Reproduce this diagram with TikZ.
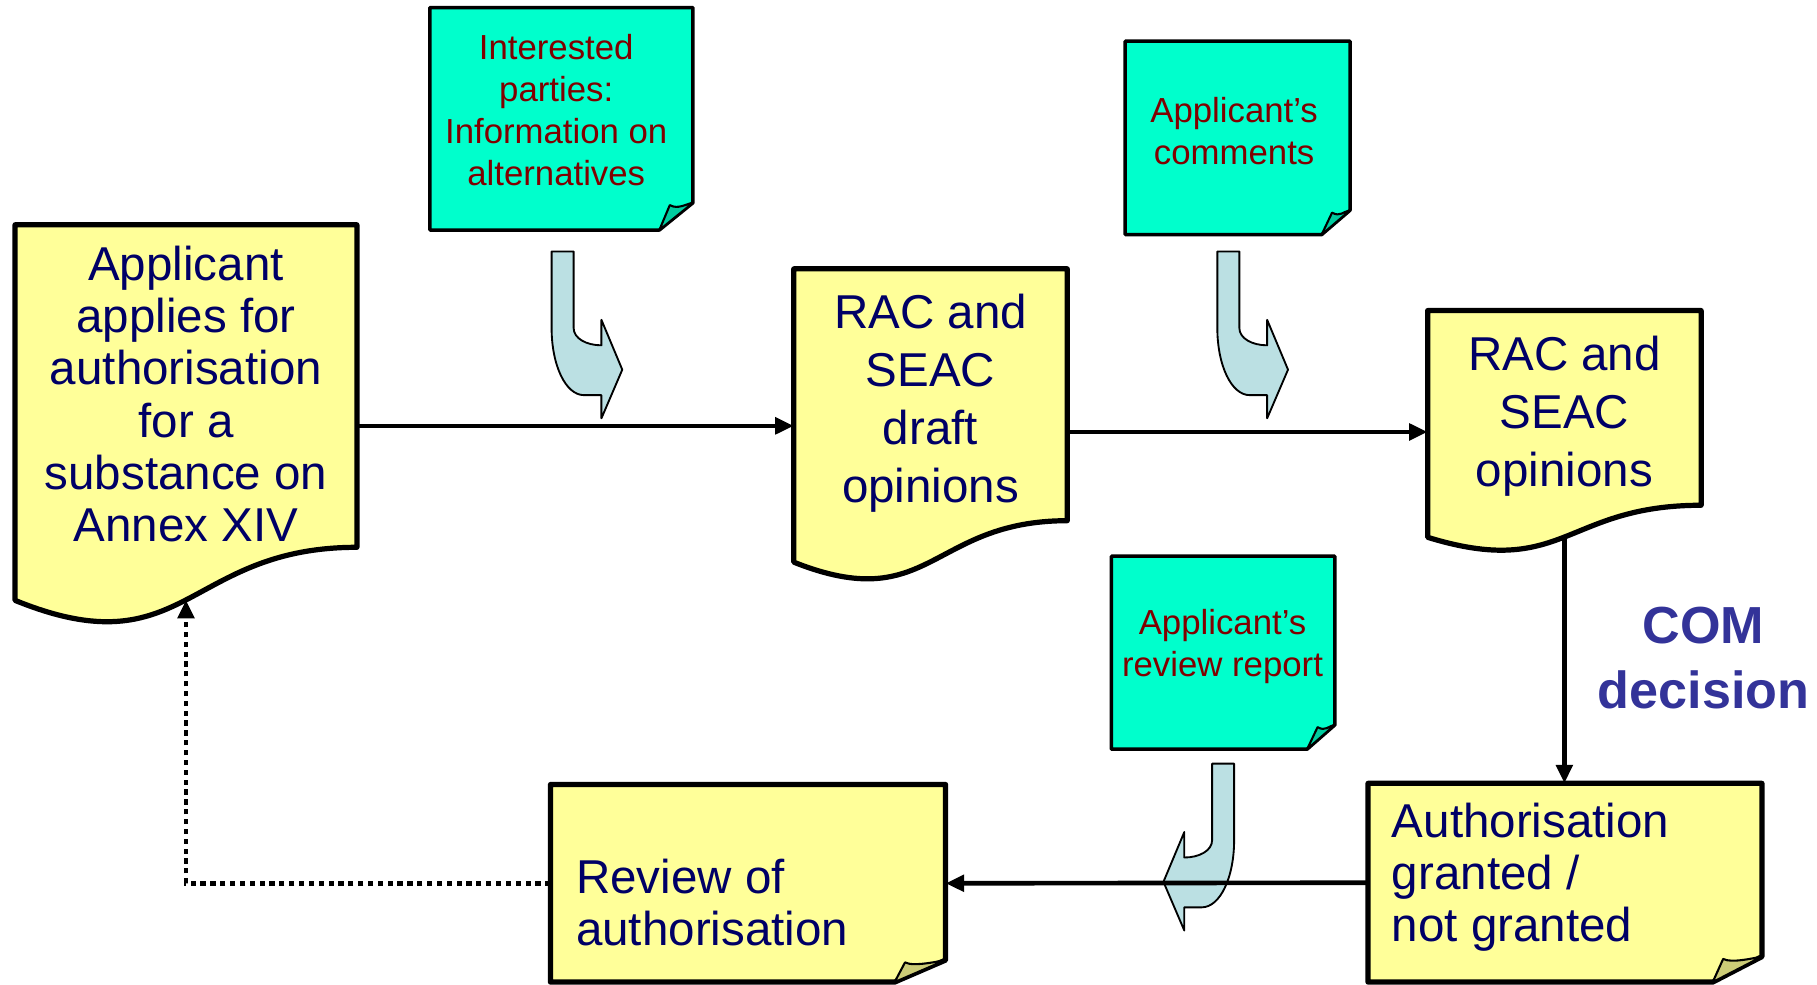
\documentclass[tikz,border=0pt]{standalone}
\usepackage{fontspec}
\setmainfont{Liberation Sans}
\usetikzlibrary{arrows.meta,calc}
\definecolor{boxyellow}{HTML}{FFFF99}
\definecolor{notecyan}{HTML}{00FFCC}
\definecolor{foldyellow}{HTML}{CCCC77}
\definecolor{foldcyan}{HTML}{00CC9F}
\definecolor{navytext}{HTML}{000066}
\definecolor{notetext}{HTML}{800000}
\definecolor{comblue}{HTML}{333399}
\definecolor{bendblue}{HTML}{BBE0E3}
\tikzset{
  frame/.style={rectangle, draw=none, inner sep=0pt, outer sep=0pt},
  docline/.style={draw=black, line width=4.5pt, line join=round, fill=boxyellow},
  bendline/.style={fill=bendblue, draw=black, line width=1.6pt, line join=round},
  boxtxt/.style={font=\fontsize{41}{45}\selectfont, text=navytext, align=center, inner sep=0pt},
  boxtxtwide/.style={boxtxt, font=\fontsize{41}{50}\selectfont},
  boxtxtleft/.style={boxtxt, align=left, anchor=west},
  notetxt/.style={font=\fontsize{30}{36}\selectfont, text=notetext, align=center, inner sep=0pt},
  comtxt/.style={font=\fontsize{45}{56}\selectfont\bfseries, text=comblue, align=center, inner sep=0pt},
  conn/.style={line width=4pt, -{Triangle[length=16pt,width=14pt]}},
  dotconn/.style={conn, dash pattern=on 4.5pt off 4pt}
}
% bent block arrow: x, y of inner top corner, direction (1 right, -1 left)
\newcommand\bendarrow[3]{%
  \begin{scope}[shift={(#1,#2)}, xscale=#3]
  \path[bendline]
    (-19,0) -- (0,0) -- (0,66) .. controls (0,75) and (11,81) .. (24,81)
    -- (24,59) -- (42,102) -- (24,144) -- (24,124) -- (9,124)
    .. controls (-7,124) and (-19,98) .. (-19,66) -- cycle;
  \end{scope}}
% document shape on a frame node
\newcommand\mkdoc[1]{%
  \path[docline] (#1.north west) -- (#1.north east)
    -- ($(#1.north east)!0.802!(#1.south east)$)
    .. controls ($(#1.north)!0.802!(#1.south)$) and ($(#1.north)!1.107!(#1.south)$)
    .. ($(#1.north west)!0.934!(#1.south west)$) coordinate[pos=0.5] (#1w) -- cycle;}
% note with folded corner: name, dx, dy, fill, fold fill, line width
\newcommand\mknote[6]{%
  \path[draw=black, line width=#6pt, line join=round, fill=#4]
    (#1.north west) -- (#1.north east) -- ([yshift=#3pt]#1.south east)
    -- ([xshift=-#2pt]#1.south east) -- (#1.south west) -- cycle;
  \path[draw=black, line width=1.8pt, line join=round, fill=#5]
    ([xshift=-#2pt]#1.south east) -- ([xshift=-#2pt+9pt, yshift=#3pt-2pt]#1.south east)
    .. controls ([xshift=-#2pt+16pt, yshift=#3pt-6pt]#1.south east)
    and ([xshift=-6pt, yshift=#3pt-1pt]#1.south east) .. ([yshift=#3pt]#1.south east) -- cycle;}
\begin{document}
\begin{tikzpicture}[x=1pt, y=-1pt]
\useasboundingbox (0,0) rectangle (1568,850);
% frames
\node[frame, minimum width=295pt, minimum height=347pt] (A) at (160.5,367.5) {};
\node[frame, minimum width=236pt, minimum height=271pt] (B) at (803,367.5) {};
\node[frame, minimum width=236pt, minimum height=209.5pt] (C) at (1350,372.75) {};
\node[frame, minimum width=340pt, minimum height=171.5pt] (D) at (1350.5,761.75) {};
\node[frame, minimum width=341pt, minimum height=170.5pt] (E) at (645.5,762.25) {};
\node[frame, minimum width=227pt, minimum height=192pt] (N1) at (484.5,102.5) {};
\node[frame, minimum width=194pt, minimum height=167pt] (N2) at (1068,119) {};
\node[frame, minimum width=193pt, minimum height=166.5pt] (N3) at (1055.5,563.25) {};
% bent block arrows
\bendarrow{495}{217}{1}
\bendarrow{1069.5}{217}{1}
\bendarrow{1046}{659}{-1}
% shapes
\mkdoc{A}
\mkdoc{B}
\mkdoc{C}
\mknote{D}{42.5}{22}{boxyellow}{foldyellow}{4.5}
\mknote{E}{44}{19}{boxyellow}{foldyellow}{4.5}
\mknote{N1}{29}{23.5}{notecyan}{foldcyan}{3}
\mknote{N2}{24.5}{21}{notecyan}{foldcyan}{3}
\mknote{N3}{24}{21}{notecyan}{foldcyan}{3}
% connectors
\draw[conn] (A.east) -- (B.west);
\draw[conn] (C.west -| B.east) -- (C.west);
\draw[conn] (Cw) -- (Cw |- D.north);
\draw[conn] (D.west) -- (E.east);
\draw[dotconn] (E.west) -| (Aw);
% texts
\node[boxtxt] (At) at (160.5,340) {Applicant\\applies for\\authorisation\\for a\\substance on\\Annex XIV};
\node[boxtxtwide] (Bt) at (803,348) {RAC and\\SEAC\\draft\\opinions};
\node[boxtxtwide] (Ct) at (1350,359) {RAC and\\SEAC\\opinions};
\node[boxtxtleft] (Dt) at (1201,757) {Authorisation\\granted /\\not granted};
\node[boxtxtleft] (Et) at (497,779) {Review of\\authorisation};
\node[notetxt] (N1t) at (480,95) {Interested\\parties:\\Information on\\alternatives};
\node[notetxt] (N2t) at (1065,113) {Applicant’s\\comments};
\node[notetxt] (N3t) at (1055,558) {Applicant’s\\review report};
\node[comtxt] (com) at (1470,568) {COM\\decision};
\end{tikzpicture}
\end{document}
